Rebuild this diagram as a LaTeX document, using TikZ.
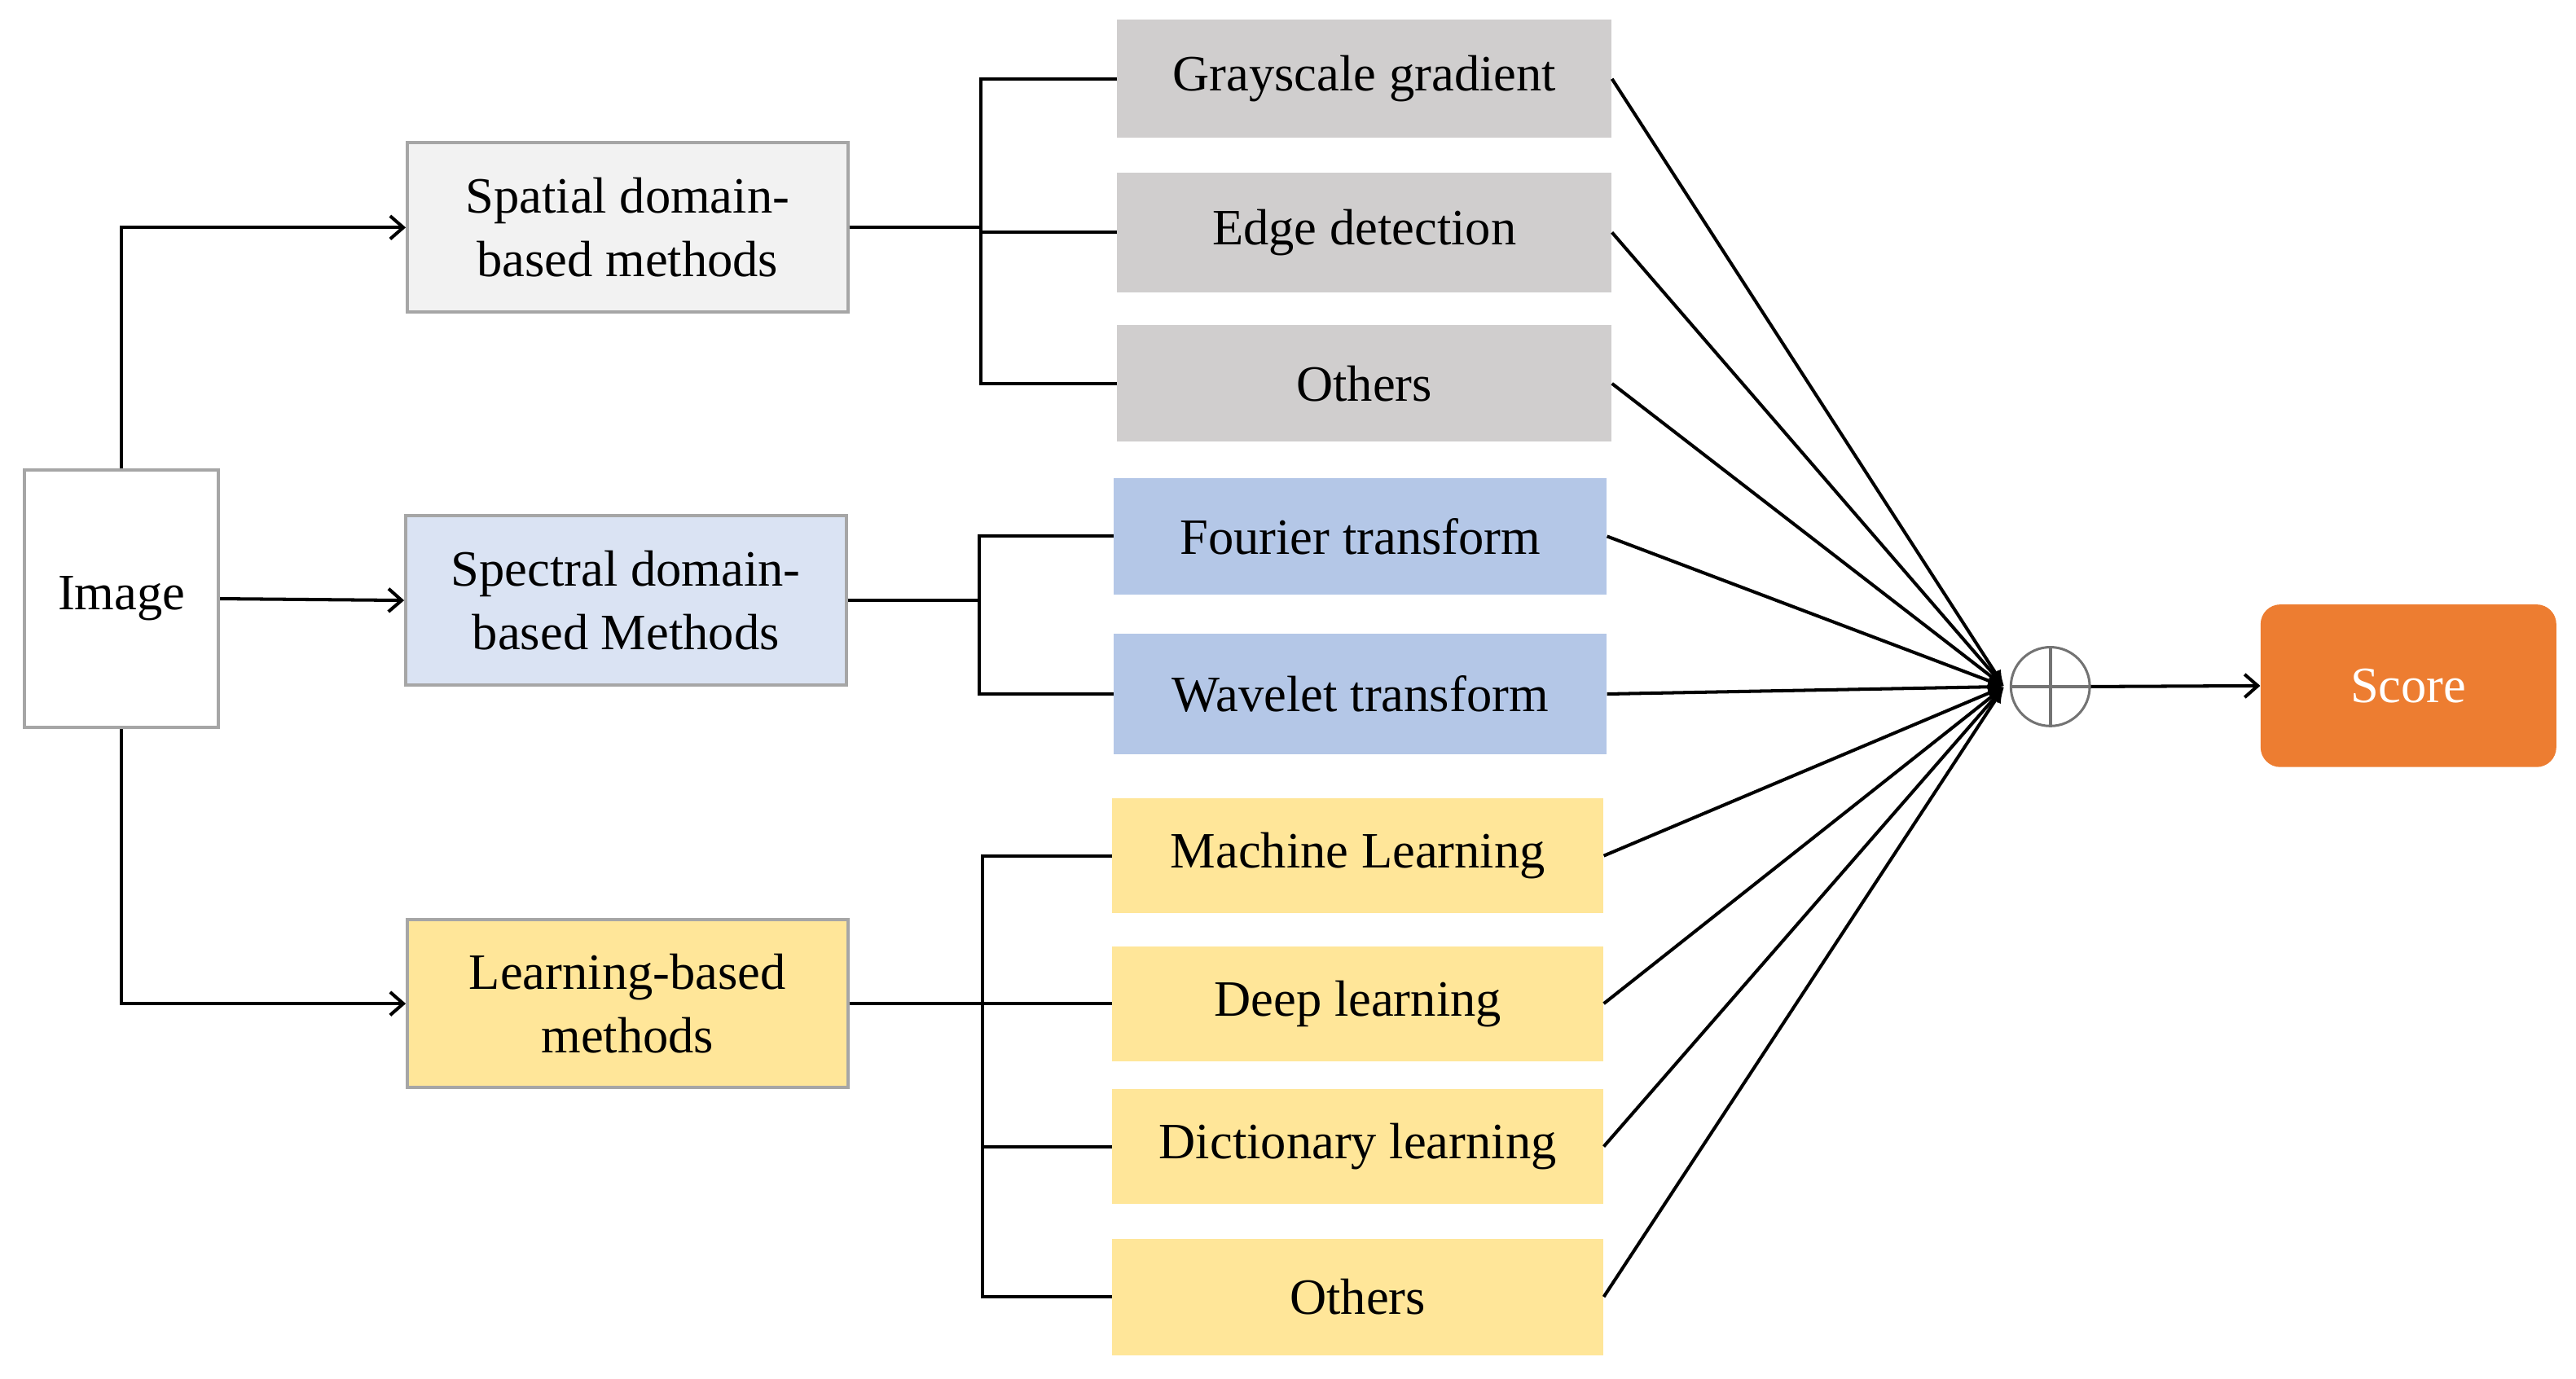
\documentclass[tikz,border=0pt]{standalone}
\usepackage{fontspec}
\setmainfont{Liberation Serif}
\usetikzlibrary{arrows.meta}
\definecolor{bgray}{HTML}{A6A6A6}
\definecolor{fsp}{HTML}{F2F2F2}
\definecolor{fspec}{HTML}{DAE3F3}
\definecolor{fyel}{HTML}{FFE699}
\definecolor{fgray}{HTML}{D0CECE}
\definecolor{fblue}{HTML}{B4C7E7}
\definecolor{forange}{HTML}{ED7D31}
\begin{document}
\begin{tikzpicture}[x=1pt,y=-1pt,
  txt/.style={font=\fontsize{31}{39}\selectfont,align=center,inner sep=0pt},
  lbox/.style={draw=bgray,line width=2pt,txt},
  rbox/.style={txt},
  ln/.style={line width=2pt,black},
  arr/.style={ln,-{Straight Barb[length=8pt,width=14pt,line width=2pt]}},
  farr/.style={ln,-{Latex[length=10pt,width=8pt]}}]
\useasboundingbox (0,0) rectangle (1568,839.5);
% left boxes
\node[lbox,fill=white,minimum width=118pt,minimum height=157pt] (img) at (74,364.5) {Image};
\node[lbox,fill=fsp,minimum width=268pt,minimum height=103pt] (sp) at (382,138.5) {Spatial domain-\\based methods};
\node[lbox,fill=fspec,minimum width=268pt,minimum height=103pt] (spec) at (381,365.5) {Spectral domain-\\based Methods};
\node[lbox,fill=fyel,minimum width=268pt,minimum height=102pt] (lb) at (382,611) {Learning-based\\methods};
% right boxes
\node[rbox,fill=fgray,minimum width=301pt,minimum height=72pt] (g1) at (830.5,48) {Grayscale gradient};
\node[rbox,fill=fgray,minimum width=301pt,minimum height=73pt] (g2) at (830.5,141.5) {Edge detection};
\node[rbox,fill=fgray,minimum width=301pt,minimum height=71pt] (g3) at (830.5,233.5) {Others};
\node[rbox,fill=fblue,minimum width=300pt,minimum height=71pt] (b1) at (828,326.5) {Fourier transform};
\node[rbox,fill=fblue,minimum width=300pt,minimum height=73pt] (b2) at (828,422.5) {Wavelet transform};
\node[rbox,fill=fyel,minimum width=299pt,minimum height=70pt] (y1) at (826.5,521) {Machine Learning};
\node[rbox,fill=fyel,minimum width=299pt,minimum height=70pt] (y2) at (826.5,611) {Deep learning};
\node[rbox,fill=fyel,minimum width=299pt,minimum height=70pt] (y3) at (826.5,698) {Dictionary learning};
\node[rbox,fill=fyel,minimum width=299pt,minimum height=71pt] (y4) at (826.5,789.5) {Others};
\node[txt,fill=forange,text=white,rounded corners=12pt,minimum width=180pt,minimum height=99pt] (sc) at (1466,417.5) {Score};
% circle
\node[draw=black!55,line width=1.5pt,circle,minimum size=48pt,inner sep=0pt] (plus) at (1248,418) {};
\draw[black!55,line width=2pt] (plus.north) -- (plus.south) (plus.west) -- (plus.east);
\coordinate (cv) at (1220,418);
% image connectors
\draw[arr] (img.north) |- (sp.west);
\draw[arr] (img.east) -- (spec.west);
\draw[arr] (img.south) |- (lb.west);
% brackets
\coordinate (j1) at (597,0); \coordinate (j2) at (596,0); \coordinate (j3) at (598,0);
\draw[ln] (sp.east) -- (sp.east -| j1);
\draw[ln] (g1.west) -| (j1 |- g3.west) -- (g3.west);
\draw[ln] (g2.west) -- (g2.west -| j1);
\draw[ln] (spec.east) -- (spec.east -| j2);
\draw[ln] (b1.west) -| (j2 |- b2.west) -- (b2.west);
\draw[ln] (lb.east) -- (lb.east -| j3);
\draw[ln] (y1.west) -| (j3 |- y4.west) -- (y4.west);
\draw[ln] (y2.west) -- (y2.west -| j3);
\draw[ln] (y3.west) -- (y3.west -| j3);
% fan
\foreach \n in {g1,g2,g3,b1,b2,y1,y2,y3,y4} \draw[farr] (\n.east) -- (cv);
\draw[arr] (plus.east) -- (sc.west);
\end{tikzpicture}
\end{document}
